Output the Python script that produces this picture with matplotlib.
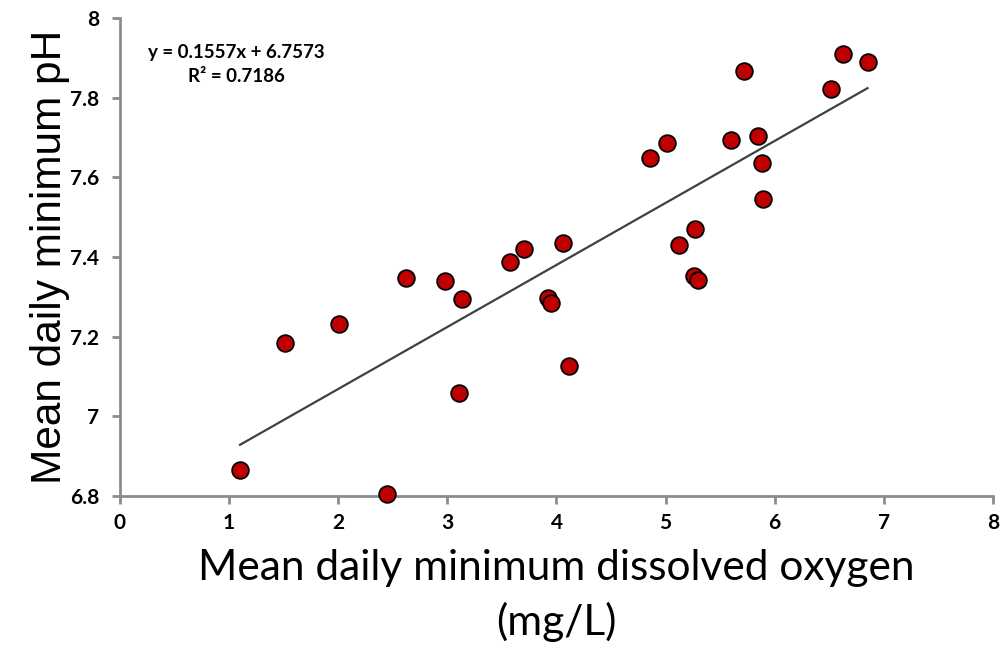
import matplotlib.pyplot as plt
import numpy as np

# mean daily minimum dissolved oxygen (mg/L) and mean daily minimum pH
oxygen = [1.10, 1.51, 2.01, 2.45, 2.62, 2.98, 3.11, 3.13, 3.57, 3.70,
          3.92, 3.95, 4.06, 4.11, 4.86, 5.01, 5.12, 5.27, 5.26, 5.30,
          5.60, 5.72, 5.85, 5.88, 5.89, 6.52, 6.63, 6.85]
ph = [6.865, 7.183, 7.232, 6.805, 7.347, 7.340, 7.059, 7.294, 7.388, 7.419,
      7.296, 7.284, 7.434, 7.127, 7.648, 7.685, 7.430, 7.470, 7.353, 7.342,
      7.694, 7.868, 7.704, 7.635, 7.545, 7.823, 7.909, 7.889]

slope = 0.1557
intercept = 6.7573
r2 = 0.7186

xticks = [0, 1, 2, 3, 4, 5, 6, 7, 8]
yticks = [6.8, 7.0, 7.2, 7.4, 7.6, 7.8, 8.0]
ytick_labels = ["6.8", "7", "7.2", "7.4", "7.6", "7.8", "8"]

plt.rcParams["font.family"] = "Lato"

fig = plt.figure(figsize=(10.03, 6.64), dpi=100)
ax = fig.add_axes([120/1003, 1 - 496/664, 873/1003, 478/664])

# trend line over the range of the data
xfit = np.array([min(oxygen), max(oxygen)])
ax.plot(xfit, slope * xfit + intercept, color="#404040", lw=1.6, zorder=2)

ax.plot(oxygen, ph, "o", ms=12, mfc="#C00000", mec="black", mew=1.3,
        clip_on=False, zorder=3)

ax.set_xlim(0, 8)
ax.set_ylim(6.8, 8)
ax.set_xticks(xticks, [str(t) for t in xticks], fontweight="bold", fontsize=15)
ax.set_yticks(yticks, ytick_labels, fontweight="bold", fontsize=15)

for s in ["top", "right"]:
    ax.spines[s].set_visible(False)
for s in ["left", "bottom"]:
    ax.spines[s].set_color("#8c8c8c")
    ax.spines[s].set_linewidth(2)
ax.tick_params(colors="#8c8c8c", labelcolor="black", width=2, length=6,
               direction="out")
ax.tick_params(axis="x", pad=6)
ax.tick_params(axis="y", pad=9)

ax.set_ylabel("Mean daily minimum pH", fontsize=30.5, family="Liberation Sans",
              labelpad=0)
ax.set_xlabel("Mean daily minimum dissolved oxygen\n(mg/L)", fontsize=30.5,
              labelpad=12, linespacing=1.45)

ax.text(0.133, 0.945, "y = 0.1557x + 6.7573\nR² = 0.7186", transform=ax.transAxes,
        ha="center", va="top", fontsize=13.5, fontweight="bold",
        linespacing=1.45)

fig.savefig("out.png", dpi=100)
